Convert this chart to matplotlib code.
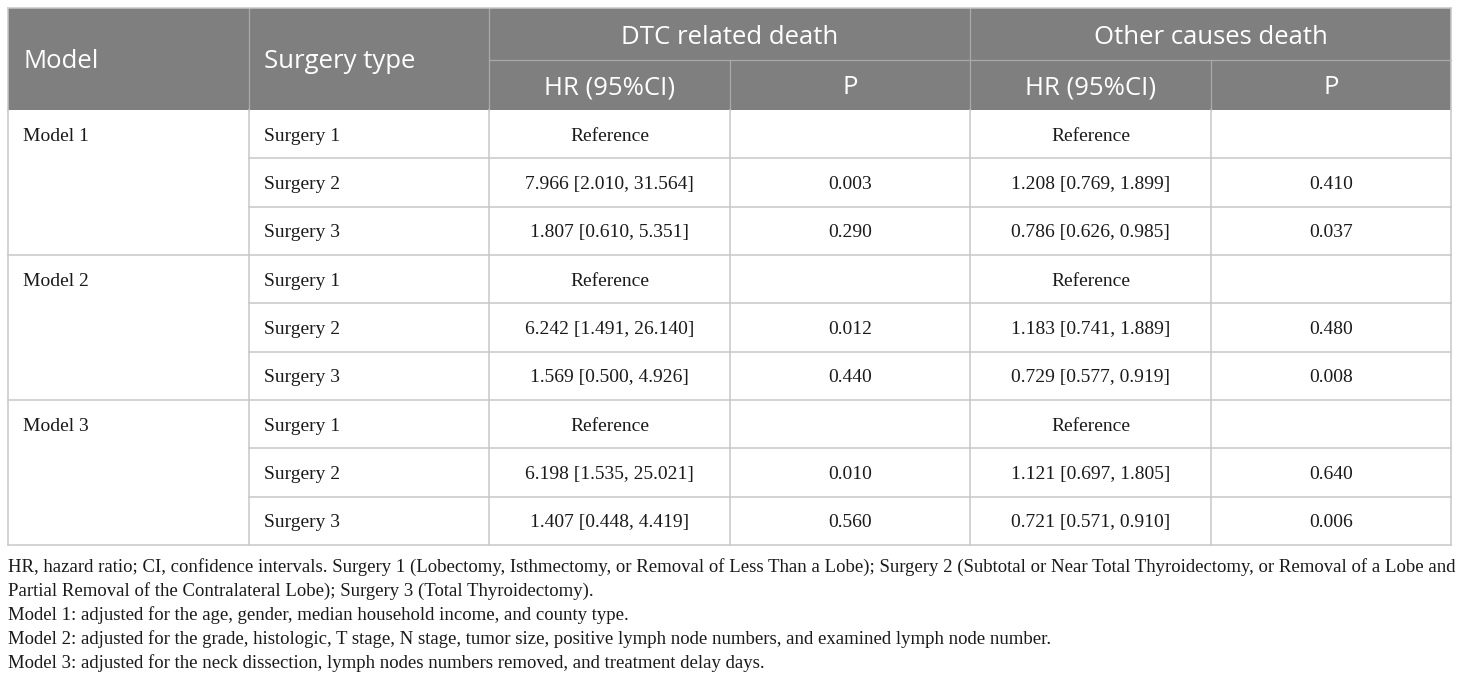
import matplotlib
matplotlib.use("Agg")
import matplotlib.pyplot as plt
from matplotlib.patches import Rectangle

# ---- data ----
models = ["Model 1", "Model 2", "Model 3"]
surgery_types = ["Surgery 1", "Surgery 2", "Surgery 3"]
dtc_hr = [
    ["Reference", "7.966 [2.010, 31.564]", "1.807 [0.610, 5.351]"],
    ["Reference", "6.242 [1.491, 26.140]", "1.569 [0.500, 4.926]"],
    ["Reference", "6.198 [1.535, 25.021]", "1.407 [0.448, 4.419]"],
]
dtc_p = [
    ["", "0.003", "0.290"],
    ["", "0.012", "0.440"],
    ["", "0.010", "0.560"],
]
other_hr = [
    ["Reference", "1.208 [0.769, 1.899]", "0.786 [0.626, 0.985]"],
    ["Reference", "1.183 [0.741, 1.889]", "0.729 [0.577, 0.919]"],
    ["Reference", "1.121 [0.697, 1.805]", "0.721 [0.571, 0.910]"],
]
other_p = [
    ["", "0.410", "0.037"],
    ["", "0.480", "0.008"],
    ["", "0.640", "0.006"],
]
header_top = ["Model", "Surgery type", "DTC related death", "Other causes death"]
header_sub = ["HR (95%CI)", "P", "HR (95%CI)", "P"]
footnotes = [
    "HR, hazard ratio; CI, confidence intervals. Surgery 1 (Lobectomy, Isthmectomy, or Removal of Less Than a Lobe); Surgery 2 (Subtotal or Near Total Thyroidectomy, or Removal of a Lobe and",
    "Partial Removal of the Contralateral Lobe); Surgery 3 (Total Thyroidectomy).",
    "Model 1: adjusted for the age, gender, median household income, and county type.",
    "Model 2: adjusted for the grade, histologic, T stage, N stage, tumor size, positive lymph node numbers, and examined lymph node number.",
    "Model 3: adjusted for the neck dissection, lymph nodes numbers removed, and treatment delay days.",
]

# ---- layout ----
W, H = 1460, 681
fig = plt.figure(figsize=(W / 100, H / 100), dpi=100)
ax = fig.add_axes([0, 0, 1, 1])
ax.set_xlim(0, W)
ax.set_ylim(H, 0)
ax.axis("off")

cols = [8, 249, 489, 730, 970, 1211, 1451]
top, hmid, hbot = 8, 60, 110
row_h = (545 - hbot) / 9.0
hdr_bg = "#7f7f7f"
hdr_line = "#a9a9a9"
body_line = "#c8c8c8"
serif = ["Liberation Serif", "DejaVu Serif"]
sans = ["Open Sans", "DejaVu Sans"]
body_fs = 14
hdr_fs = 18.5
hdy = 3    # header text vertical nudge
bdy = 2    # body text vertical nudge

# header background
ax.add_patch(Rectangle((cols[0], top), cols[-1] - cols[0], hbot - top,
                       facecolor=hdr_bg, edgecolor="none", zorder=1))
# header lines
for x in cols[1:-1]:
    y0 = top if x in (cols[1], cols[2], cols[4]) else hmid
    ax.plot([x, x], [y0, hbot], color=hdr_line, lw=0.9, zorder=2)
ax.plot([cols[2], cols[-1]], [hmid, hmid], color=hdr_line, lw=0.9, zorder=2)

# header text
ax.text(cols[0] + 15, (top + hbot) / 2 + hdy, header_top[0], color="white", fontsize=hdr_fs,
        family=sans, va="center", ha="left", zorder=3)
ax.text(cols[1] + 15, (top + hbot) / 2 + hdy, header_top[1], color="white", fontsize=hdr_fs,
        family=sans, va="center", ha="left", zorder=3)
ax.text((cols[2] + cols[4]) / 2, (top + hmid) / 2 + hdy, header_top[2], color="white",
        fontsize=hdr_fs, family=sans, va="center", ha="center", zorder=3)
ax.text((cols[4] + cols[6]) / 2, (top + hmid) / 2 + hdy, header_top[3], color="white",
        fontsize=hdr_fs, family=sans, va="center", ha="center", zorder=3)
for i, t in enumerate(header_sub):
    ax.text((cols[2 + i] + cols[3 + i]) / 2, (hmid + hbot) / 2 + hdy, t, color="white",
            fontsize=hdr_fs, family=sans, va="center", ha="center", zorder=3)

# body
lw_body = 1.1
for g, m in enumerate(models):
    for s in range(3):
        r = g * 3 + s
        yt = hbot + r * row_h
        yc = yt + row_h / 2 + bdy
        if s == 0:
            ax.text(cols[0] + 15, yc, m, fontsize=body_fs, family=serif,
                    va="center", ha="left", color="#1a1a1a")
        ax.text(cols[1] + 15, yc, surgery_types[s], fontsize=body_fs, family=serif,
                va="center", ha="left", color="#1a1a1a")
        vals = [dtc_hr[g][s], dtc_p[g][s], other_hr[g][s], other_p[g][s]]
        for k, v in enumerate(vals):
            ax.text((cols[2 + k] + cols[3 + k]) / 2, yc, v, fontsize=body_fs,
                    family=serif, va="center", ha="center", color="#1a1a1a")
        yb = yt + row_h
        x0 = cols[0] if s == 2 else cols[1]
        ax.plot([x0, cols[-1]], [yb, yb], color=body_line, lw=lw_body, zorder=2)

bottom = hbot + 9 * row_h
for x in cols:
    ax.plot([x, x], [hbot, bottom], color=body_line, lw=lw_body, zorder=2)
# outer border of header
ax.plot([cols[0], cols[-1]], [top, top], color=body_line, lw=lw_body, zorder=2)
ax.plot([cols[0], cols[0]], [top, hbot], color=body_line, lw=lw_body, zorder=2)
ax.plot([cols[-1], cols[-1]], [top, hbot], color=body_line, lw=lw_body, zorder=2)

# footnotes
fy = [567, 591, 615, 639, 663]
for y, t in zip(fy, footnotes):
    ax.text(cols[0], y, t, fontsize=13.52, family=serif, va="center", ha="left",
            color="#1a1a1a")

fig.savefig("out.png", dpi=100)
